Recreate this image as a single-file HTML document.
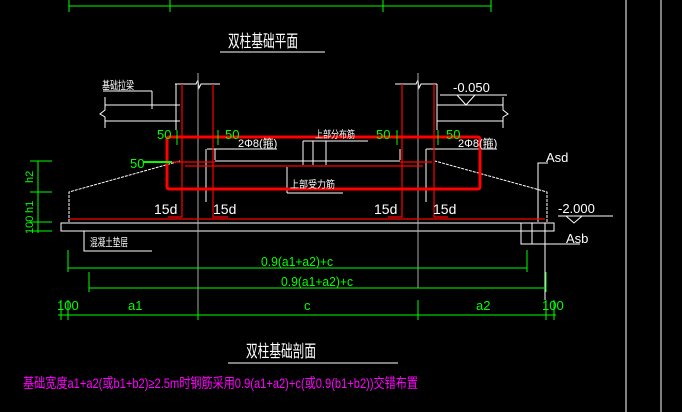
<!DOCTYPE html><html><head><meta charset="utf-8"><style>body{margin:0;background:#000;width:682px;height:412px;overflow:hidden}svg{display:block}text{font-family:"Liberation Sans","Noto Sans CJK SC",sans-serif}</style></head><body>
<svg width="682" height="412" viewBox="0 0 682 412" xmlns="http://www.w3.org/2000/svg">
<g stroke="#fff" stroke-width="1" fill="none">
<line x1="626" y1="0" x2="626" y2="412"/><line x1="661" y1="0" x2="661" y2="412"/>
<line x1="220" y1="52" x2="325" y2="52"/><line x1="228" y1="363" x2="398" y2="363"/>
<polyline points="175,84 196,84 198,80 199,88 201,84 220,84"/><polyline points="395,84 416,84 418,80 419,88 421,84 437,84"/>
<line x1="176" y1="84" x2="176" y2="130"/><line x1="437" y1="84" x2="437" y2="130"/>
<line x1="103" y1="91" x2="152" y2="91"/><line x1="152" y1="91" x2="152" y2="109"/>
<line x1="105" y1="105" x2="180" y2="105"/><line x1="105" y1="121" x2="180" y2="121"/>
<polyline points="105,97 105,110 100,114 105,117 105,128"/>
<line x1="437" y1="105" x2="503" y2="105"/><line x1="437" y1="121" x2="503" y2="121"/>
<polyline points="503,97 503,110 508,114 503,117 503,128"/>
<line x1="440" y1="95" x2="507" y2="95"/><polyline points="457,95 466,105 475,95"/>
<line x1="207" y1="149" x2="277" y2="149"/><line x1="426" y1="149" x2="497" y2="149"/>
<line x1="206" y1="149" x2="206" y2="202"/><line x1="426" y1="149" x2="426" y2="202"/>
<line x1="215" y1="149" x2="215" y2="160"/><line x1="400" y1="149" x2="400" y2="160"/>
<line x1="215" y1="161" x2="400" y2="161"/>
<line x1="303" y1="141" x2="368" y2="141"/><line x1="303" y1="141" x2="303" y2="165"/><line x1="313" y1="141" x2="313" y2="165"/><line x1="326" y1="141" x2="326" y2="165"/>
<line x1="287" y1="167" x2="287" y2="193"/><line x1="287" y1="193" x2="343" y2="193"/>
<polyline points="69,222 69,192 180,161" stroke-dasharray="3,1"/><polyline points="547,222 547,192 435,161" stroke-dasharray="3,1"/>
<rect x="61" y="223" width="493" height="8"/>
<polyline points="538,222 538,163 548,163"/>
<line x1="558" y1="216" x2="613" y2="216"/><polyline points="566,216 574,223 582,216"/>
<rect x="521" y="223" width="24" height="21"/><line x1="532" y1="223" x2="532" y2="244"/><line x1="545" y1="244" x2="580" y2="244"/><line x1="545" y1="231" x2="545" y2="300"/>
<polyline points="84,231 84,251 152,251"/>
</g>
<g stroke="#aaa" stroke-width="1"><line x1="198" y1="73" x2="198" y2="318"/><line x1="418" y1="73" x2="418" y2="288"/></g>
<g stroke="#f00" stroke-width="1.2" fill="none">
<polyline points="168,217 182,217 182,84"/><polyline points="213,84 213,217 228,217"/>
<polyline points="388,217 402,217 402,84"/><polyline points="434,84 434,217 448,217"/>
<line x1="170" y1="162" x2="215" y2="162"/><line x1="400" y1="162" x2="432" y2="162"/>
<line x1="185" y1="166" x2="423" y2="166"/>
<line x1="70" y1="219" x2="545" y2="219"/>
<rect x="167" y="137" width="313" height="52" rx="2" stroke-width="3"/>
</g>
<g stroke="#0f0" stroke-width="1" fill="none">
<line x1="69" y1="6" x2="491" y2="6"/><line x1="69" y1="0" x2="69" y2="12"/><line x1="170" y1="0" x2="170" y2="12"/><line x1="383" y1="0" x2="383" y2="12"/><line x1="491" y1="0" x2="491" y2="12"/>
<line x1="38" y1="161" x2="38" y2="233"/><line x1="30" y1="161" x2="52" y2="161"/><line x1="30" y1="192" x2="52" y2="192"/><line x1="30" y1="222" x2="52" y2="222"/><line x1="30" y1="231" x2="52" y2="231"/>
<line x1="177" y1="130" x2="177" y2="145"/><line x1="218" y1="130" x2="218" y2="145"/><line x1="397" y1="130" x2="397" y2="145"/><line x1="438" y1="130" x2="438" y2="145"/>
<line x1="143" y1="162" x2="172" y2="162" stroke-width="2"/>
<line x1="68" y1="268" x2="527" y2="268"/><line x1="68" y1="250" x2="68" y2="272"/><line x1="527" y1="250" x2="527" y2="272"/>
<line x1="89" y1="288" x2="546" y2="288"/><line x1="89" y1="272" x2="89" y2="292"/><line x1="546" y1="272" x2="546" y2="292"/>
<line x1="58" y1="315" x2="556" y2="315"/><line x1="61" y1="300" x2="61" y2="320"/><line x1="68" y1="300" x2="68" y2="320"/><line x1="198" y1="310" x2="198" y2="320"/><line x1="418" y1="300" x2="418" y2="320"/><line x1="546" y1="300" x2="546" y2="320"/><line x1="554" y1="300" x2="554" y2="320"/>
</g>
<g fill="#fff" font-size="12">
<text x="228" y="47" font-size="17" textLength="70" lengthAdjust="spacingAndGlyphs">双柱基础平面</text>
<text x="246" y="357" font-size="17" textLength="70" lengthAdjust="spacingAndGlyphs">双柱基础剖面</text>
<text x="102" y="89" font-size="11" textLength="32" lengthAdjust="spacingAndGlyphs">基础拉梁</text>
<text x="453" y="92" font-size="13">-0.050</text>
<text x="238" y="147" font-size="11">2Φ8(箍)</text><text x="458" y="147" font-size="11">2Φ8(箍)</text>
<text x="315" y="138" font-size="10" textLength="40" lengthAdjust="spacingAndGlyphs">上部分布筋</text><text x="290" y="188" font-size="10" textLength="45" lengthAdjust="spacingAndGlyphs">上部受力筋</text>
<text x="154" y="214" font-size="14">15d</text><text x="213" y="214" font-size="14">15d</text><text x="374" y="214" font-size="14">15d</text><text x="433" y="214" font-size="14">15d</text>
<text x="546" y="162" font-size="13">Asd</text><text x="558" y="213" font-size="13">-2.000</text><text x="566" y="243" font-size="13">Asb</text>
<text x="90" y="246" font-size="11" textLength="38" lengthAdjust="spacingAndGlyphs">混凝土垫层</text>
</g>
<g fill="#0f0" font-size="13">
<text x="157" y="139">50</text><text x="225" y="139">50</text><text x="376" y="139">50</text><text x="446" y="139">50</text><text x="130" y="168">50</text>
<text x="261" y="266" textLength="72" lengthAdjust="spacingAndGlyphs">0.9(a1+a2)+c</text><text x="281" y="286" textLength="72" lengthAdjust="spacingAndGlyphs">0.9(a1+a2)+c</text>
<text x="57" y="310">100</text><text x="128" y="310">a1</text><text x="304" y="310">c</text><text x="476" y="310">a2</text><text x="542" y="310">100</text>
<g font-size="11"><text transform="translate(33,183) rotate(-90)">h2</text><text transform="translate(33,213) rotate(-90)">h1</text><text transform="translate(33,234) rotate(-90)">100</text></g>
</g>
<text x="23" y="388" fill="#f0f" font-size="14" textLength="395" lengthAdjust="spacingAndGlyphs">基础宽度a1+a2(或b1+b2)≥2.5m时钢筋采用0.9(a1+a2)+c(或0.9(b1+b2))交错布置</text>
</svg></body></html>
